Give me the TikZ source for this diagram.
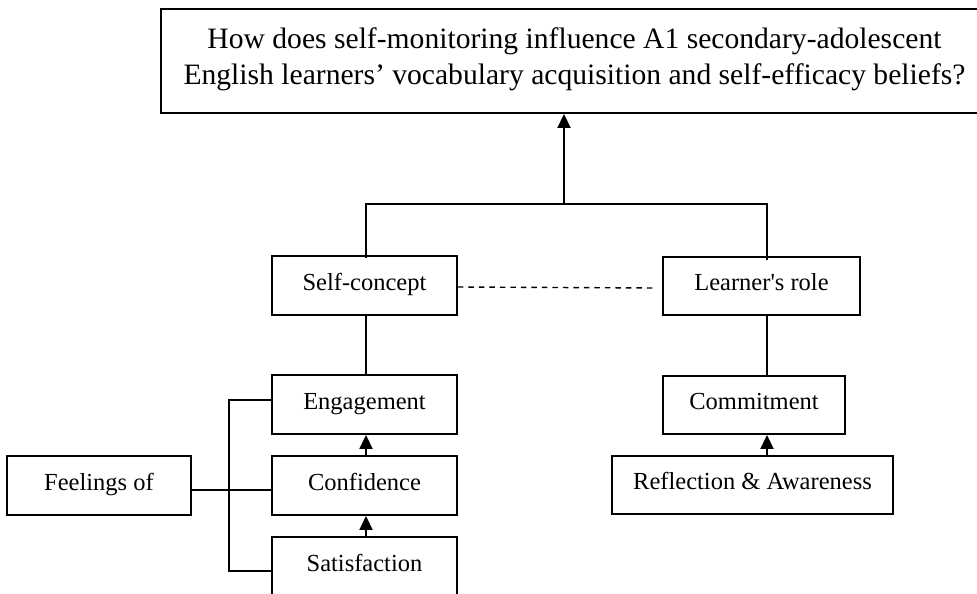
\documentclass[tikz,border=0pt]{standalone}
\usepackage{fontspec}
\setmainfont{Liberation Serif}[Ligatures=TeXOff]
\usetikzlibrary{arrows.meta,calc}
\begin{document}
\begin{tikzpicture}[x=1pt,y=-1pt,
  box/.style={draw,line width=1.9pt,inner sep=0pt,align=center,text height=17pt,text depth=8pt,font=\fontsize{24.5}{29}\selectfont},
  conn/.style={line width=1.9pt},
  arr/.style={line width=1.9pt,-{Triangle[width=13pt,length=14pt]}}]
\clip (0,0) rectangle (977,594);
\useasboundingbox (0,0) rectangle (977,594);
\node[draw,line width=1.9pt,inner sep=0pt,align=center,minimum width=827pt,minimum height=104pt,font=\fontsize{29.6}{36}\selectfont] (q) at (574.5,61) {};
\node[inner sep=0pt,align=center,font=\fontsize{29.6}{36}\selectfont] (qt) at (574.5,59)
  {How does self-monitoring influence A1 secondary-adolescent\\English learners’ vocabulary acquisition and self-efficacy beliefs?};
\node[box,minimum width=185pt,minimum height=59pt] (sc) at (364.5,285.5) {Self-concept};
\node[box,minimum width=197pt,minimum height=58pt] (lr) at (761.5,286) {Learner's role};
\node[box,minimum width=185pt,minimum height=59pt] (eng) at (364.5,404.5) {Engagement};
\node[box,minimum width=185pt,minimum height=59pt] (conf) at (364.5,485.5) {Confidence};
\node[box,minimum width=185pt,minimum height=59pt] (sat) at (364.5,566.5) {Satisfaction};
\node[box,minimum width=184pt,minimum height=59pt] (feel) at (99,485.5) {Feelings of};
\node[box,minimum width=182pt,minimum height=58pt] (com) at (754,405) {Commitment};
\node[box,minimum width=281pt,minimum height=58pt] (ref) at (752.5,485) {Reflection \& Awareness};
\coordinate (j) at (564,204);
\coordinate (br) at (229,481);
\coordinate (rx) at (767,0);
% top join
\draw[conn] ([xshift=1.5pt,yshift=-3pt]sc.north) |- (j) -| ([xshift=5.5pt,yshift=-4pt]lr.north);
\draw[arr] (j) -- (q.south -| j);
\draw[line width=1.4pt,dash pattern=on 5.5pt off 5pt] ([yshift=-1.5pt]sc.east) -- ([xshift=-6pt,yshift=-2pt]lr.west);
% left column
\draw[conn] ([xshift=1.5pt]sc.south) -- ([xshift=1.5pt]eng.north);
\draw[arr] ([xshift=1.5pt]conf.north) -- ([xshift=1.5pt]eng.south);
\draw[arr] ([xshift=1.5pt]sat.north) -- ([xshift=1.5pt]conf.south);
\draw[conn] ([yshift=-4.5pt]feel.east) -- ([yshift=-4.5pt]conf.west);
\draw[conn] ([yshift=4.5pt]eng.west) -| (br) |- ([yshift=-4.5pt]sat.west);
% right column
\draw[conn] (lr.south -| rx) -- (com.north -| rx);
\draw[arr] (ref.north -| rx) -- (com.south -| rx);
\end{tikzpicture}
\end{document}
